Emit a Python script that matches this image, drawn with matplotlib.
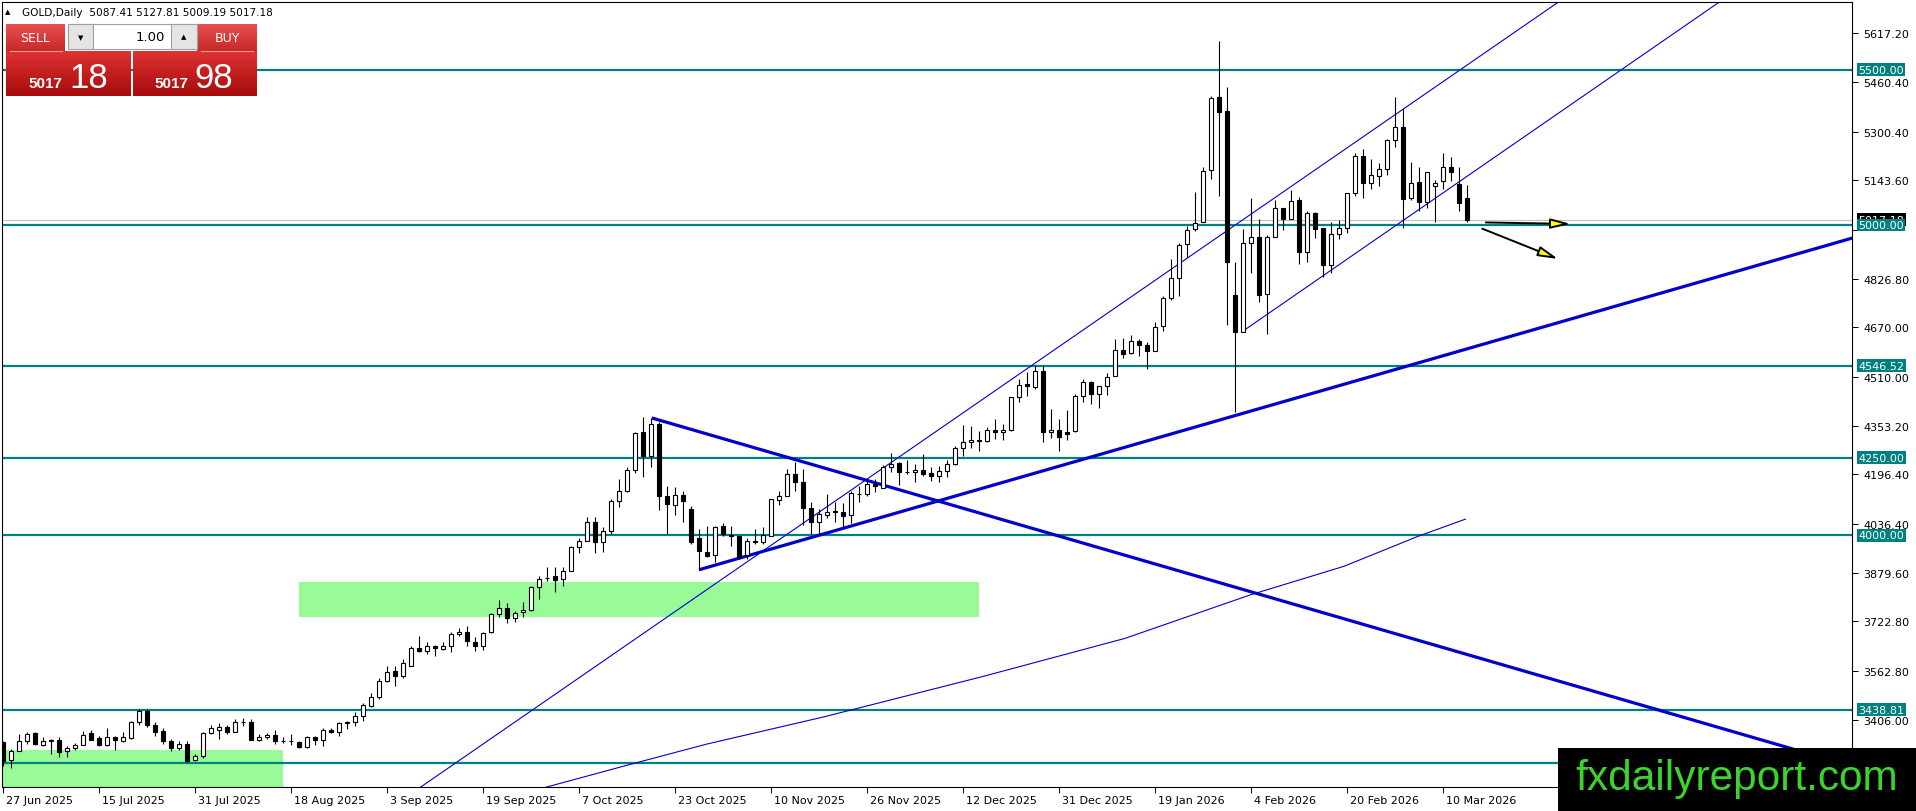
import matplotlib
matplotlib.use('Agg')
import matplotlib.pyplot as plt
import matplotlib.transforms as mtransforms
from matplotlib.patches import Rectangle, FancyArrowPatch
from matplotlib.colors import LinearSegmentedColormap
import numpy as np

W, H = 1916, 812

# daily OHLC, bar 0 = 27 Jun 2025, last bar = 13 Mar 2026
opens = [3333, 3276, 3306, 3338, 3362, 3326, 3340, 3342, 3304, 3314,
         3325, 3362, 3347, 3325, 3350, 3336, 3347, 3398, 3434, 3389,
         3371, 3336, 3315, 3328, 3277, 3290, 3363, 3374, 3384, 3367,
         3398, 3400, 3342, 3349, 3357, 3336, 3338, 3333, 3317, 3350,
         3339, 3374, 3365, 3400, 3397, 3419, 3451, 3478, 3532, 3564,
         3546, 3580, 3636, 3626, 3642, 3634, 3644, 3681, 3690, 3657,
         3644, 3687, 3745, 3765, 3735, 3752, 3759, 3832, 3862, 3868,
         3858, 3886, 3961, 3983, 4042, 3977, 4015, 4109, 4142, 4210,
         4332, 4254, 4359, 4126, 4098, 4130, 4085, 3990, 3945, 3935,
         4031, 4001, 3999, 3935, 3982, 3977, 3999, 4115, 4128, 4197,
         4171, 4087, 4044, 4067, 4077, 4076, 4066, 4133, 4132, 4165,
         4154, 4219, 4233, 4204, 4203, 4211, 4200, 4190, 4208, 4230,
         4280, 4300, 4306, 4303, 4339, 4332, 4339, 4444, 4487, 4477,
         4530, 4332, 4339, 4332, 4335, 4448, 4495, 4455, 4480, 4514,
         4598, 4586, 4627, 4614, 4595, 4673, 4765, 4830, 4937, 4987,
         5008, 5176, 5412, 5367, 4775, 4655, 4941, 4961, 4777, 4961,
         5054, 5018, 5080, 4914, 5038, 4991, 4872, 4970, 4991, 5102,
         5222, 5136, 5158, 5179, 5273, 5316, 5088, 5139, 5075, 5124,
         5142, 5185, 5131, 5087.41]
highs = [3338, 3311, 3360, 3367, 3367, 3349, 3344, 3350, 3322, 3331,
         3369, 3374, 3355, 3380, 3355, 3366, 3403, 3440, 3440, 3397,
         3378, 3344, 3338, 3338, 3297, 3367, 3389, 3394, 3389, 3408,
         3411, 3408, 3360, 3363, 3374, 3350, 3360, 3338, 3352, 3355,
         3378, 3378, 3400, 3403, 3430, 3460, 3492, 3539, 3580, 3580,
         3602, 3642, 3675, 3657, 3647, 3657, 3687, 3700, 3709, 3671,
         3687, 3749, 3793, 3782, 3757, 3784, 3836, 3870, 3897, 3897,
         3897, 3967, 3990, 4058, 4058, 4026, 4117, 4181, 4219, 4332,
         4380, 4378, 4365, 4160, 4155, 4144, 4096, 4020, 4031, 4031,
         4040, 4031, 3999, 3990, 4020, 4026, 4117, 4144, 4214, 4237,
         4214, 4106, 4085, 4133, 4106, 4104, 4144, 4160, 4182, 4182,
         4227, 4265, 4235, 4244, 4230, 4262, 4219, 4222, 4241, 4289,
         4354, 4352, 4337, 4348, 4375, 4359, 4445, 4504, 4527, 4549,
         4549, 4407, 4375, 4404, 4455, 4504, 4498, 4482, 4523, 4632,
         4635, 4645, 4632, 4624, 4688, 4770, 4890, 4942, 4995, 5106,
         5185, 5416, 5593, 5445, 4881, 4986, 5086, 5020, 4967, 5080,
         5056, 5113, 5091, 5045, 5040, 4991, 5008, 5015, 5104, 5231,
         5244, 5212, 5199, 5276, 5412, 5373, 5201, 5188, 5171, 5145,
         5231, 5219, 5187, 5127.81]
lows = [3256, 3249, 3305, 3328, 3323, 3322, 3297, 3287, 3285, 3310,
        3323, 3341, 3321, 3320, 3310, 3333, 3344, 3388, 3381, 3354,
        3328, 3305, 3307, 3269, 3274, 3282, 3360, 3344, 3360, 3365,
        3385, 3339, 3336, 3343, 3328, 3331, 3325, 3315, 3315, 3326,
        3322, 3362, 3352, 3376, 3385, 3403, 3446, 3473, 3526, 3513,
        3539, 3580, 3623, 3618, 3612, 3632, 3625, 3677, 3644, 3628,
        3632, 3684, 3736, 3718, 3722, 3736, 3757, 3795, 3854, 3818,
        3838, 3884, 3943, 3981, 3943, 3945, 4004, 4090, 4139, 4201,
        4187, 4219, 4080, 4004, 4066, 4044, 3972, 3889, 3929, 3915,
        3999, 3967, 3924, 3924, 3972, 3972, 3997, 4098, 4128, 4144,
        4033, 4004, 4004, 4055, 4042, 4026, 4040, 4108, 4128, 4141,
        4151, 4205, 4162, 4198, 4171, 4192, 4176, 4171, 4187, 4227,
        4255, 4280, 4270, 4302, 4310, 4308, 4337, 4431, 4448, 4471,
        4302, 4312, 4273, 4308, 4332, 4428, 4423, 4409, 4452, 4512,
        4570, 4584, 4579, 4536, 4595, 4659, 4759, 4772, 4895, 4981,
        5008, 5149, 5093, 4677, 4396, 4655, 4844, 4752, 4648, 4961,
        4983, 5018, 4873, 4879, 4959, 4832, 4846, 4954, 4975, 5093,
        5088, 5115, 5124, 5160, 5252, 4991, 5080, 5045, 5056, 5008,
        5117, 5142, 5045, 5009.19]
closes = [3274, 3306, 3338, 3360, 3328, 3338, 3338, 3301, 3315, 3325,
          3357, 3342, 3323, 3350, 3339, 3350, 3400, 3434, 3389, 3367,
          3336, 3315, 3328, 3274, 3290, 3363, 3378, 3382, 3365, 3400,
          3399, 3342, 3350, 3357, 3336, 3337, 3336, 3317, 3350, 3339,
          3373, 3365, 3394, 3395, 3419, 3453, 3478, 3532, 3559, 3546,
          3588, 3636, 3626, 3642, 3636, 3642, 3681, 3690, 3661, 3644,
          3684, 3745, 3765, 3735, 3749, 3760, 3832, 3858, 3863, 3857,
          3886, 3961, 3983, 4042, 3977, 4015, 4109, 4142, 4210, 4330,
          4257, 4359, 4126, 4100, 4130, 4112, 3980, 3951, 3932, 4026,
          4004, 3999, 3929, 3981, 3977, 4001, 4117, 4126, 4197, 4171,
          4087, 4044, 4069, 4076, 4076, 4063, 4136, 4134, 4164, 4158,
          4219, 4230, 4205, 4203, 4211, 4198, 4190, 4208, 4230, 4280,
          4300, 4306, 4304, 4339, 4332, 4339, 4444, 4484, 4480, 4530,
          4332, 4339, 4318, 4326, 4448, 4495, 4455, 4480, 4509, 4598,
          4584, 4627, 4614, 4595, 4670, 4765, 4830, 4935, 4985, 5006,
          5174, 5410, 5365, 4882, 4655, 4941, 4961, 4773, 4962, 5054,
          5018, 5077, 4914, 5038, 4986, 4872, 4970, 4991, 5102, 5222,
          5136, 5160, 5179, 5274, 5316, 5083, 5134, 5075, 5169, 5134,
          5185, 5169, 5072, 5017.18]

tick_idx = [0, 12, 24, 36, 48, 60, 72, 84, 96, 108, 120, 132, 144, 156, 168, 180]
tick_labels = ['27 Jun 2025', '15 Jul 2025', '31 Jul 2025', '18 Aug 2025', '3 Sep 2025',
               '19 Sep 2025', '7 Oct 2025', '23 Oct 2025', '10 Nov 2025', '26 Nov 2025',
               '12 Dec 2025', '31 Dec 2025', '19 Jan 2026', '4 Feb 2026', '20 Feb 2026',
               '10 Mar 2026']

# 4983.60 sits under the price tags, so its label is left blank
price_ticks = [5617.20, 5460.40, 5300.40, 5143.60, 4983.60, 4826.80, 4670.00, 4510.00,
               4353.20, 4196.40, 4036.40, 3879.60, 3722.80, 3562.80, 3406.00]
hidden_ticks = [4983.60]

levels = [5500.00, 5000.00, 4546.52, 4250.00, 4000.00, 3438.81, 3266.50]
level_tagged = [True, True, True, True, True, True, False]

bid = 5017.18
sell_big, sell_small = '18', '5017'
buy_big, buy_small = '98', '5017'
header = 'GOLD,Daily  5087.41 5127.81 5009.19 5017.18'

# moving average
ma_idx = [66.8, 78.1, 87.9, 102.75, 122.3, 140.25, 155.9, 167.6, 177.0, 182.8]
ma_val = [3181, 3260, 3327, 3416, 3544, 3668, 3808, 3900, 3998, 4052]

# trend lines (bar index, price)
thin_lines = [([30, 200], [2794, 5817]),
              ([155, 220], [4658, 5815])]
thick_lines = [([81.1, 240], [4378, 3190]),
               ([87.0, 235], [3889, 4986])]

# green zones: (bar from, bar to, price low, price high)
zones = [(37, 122, 3738, 3850),
         (-5, 35, 3100, 3308)]

arrows = [((185.0, 5008), (196.3, 5003)),
          ((184.6, 4991), (194.7, 4887))]

TEAL = '#008080'
BLUE = '#0000CD'

fig = plt.figure(figsize=(W / 100, H / 100), dpi=100)
fig.patch.set_facecolor('white')
ax = fig.add_axes([2 / W, (H - 788) / H, 1850 / W, 785 / H])
ax.set_xlim(-0.125, 231.125)
ax.set_ylim(3189.2, 5718.0)
for s in ax.spines.values():
    s.set_linewidth(0.8)
    s.set_color('black')

for x0, x1, lo, hi in zones:
    ax.add_patch(Rectangle((x0, lo), x1 - x0, hi - lo, facecolor='#98FB98',
                           edgecolor='none', zorder=1))

for lv in levels:
    ax.axhline(lv, color=TEAL, lw=1.6, zorder=2)
ax.axhline(bid, color='#C0C0C0', lw=0.8, zorder=2)

ax.plot(ma_idx, ma_val, color=BLUE, lw=0.8, zorder=2)
for xs, ys in thin_lines:
    ax.plot(xs, ys, color=BLUE, lw=0.8, zorder=2)
for xs, ys in thick_lines:
    ax.plot(xs, ys, color=BLUE, lw=2.3, zorder=2, solid_capstyle='butt')

idx = np.arange(len(closes))
o = np.array(opens, float)
c = np.array(closes, float)
ax.vlines(idx, lows, highs, color='black', lw=0.8, zorder=4)
up = c >= o
ax.bar(idx[up], c[up] - o[up], bottom=o[up], width=0.56, color='white',
       edgecolor='black', linewidth=0.8, zorder=5)
ax.bar(idx[~up], o[~up] - c[~up], bottom=c[~up], width=0.56, color='black',
       edgecolor='black', linewidth=0.8, zorder=5)

for (a, b) in arrows:
    ax.add_patch(FancyArrowPatch(a, b, arrowstyle='-|>,head_length=12,head_width=3',
                                 mutation_scale=1, lw=1.4, edgecolor='black',
                                 facecolor='#FFFF00', zorder=6))

# axes ticks
ax.yaxis.tick_right()
ax.set_yticks(price_ticks)
ax.set_yticklabels(['' if v in hidden_ticks else '%.2f' % v for v in price_ticks])
ax.tick_params(axis='y', direction='out', length=4, width=0.7, pad=4, labelsize=8)
ax.set_xticks(tick_idx)
ax.set_xticklabels(tick_labels)
ax.tick_params(axis='x', direction='out', length=4, width=0.7, pad=2, labelsize=8)
shift = mtransforms.ScaledTranslation(2 / 72, 0, fig.dpi_scale_trans)
for lab in ax.get_xticklabels():
    lab.set_ha('left')
    lab.set_transform(lab.get_transform() + shift)

tr = mtransforms.blended_transform_factory(ax.transAxes, ax.transData)
ax.text(1.0035, bid, '%.2f' % bid, transform=tr, ha='left', va='center', fontsize=8,
        color='white', clip_on=False, zorder=20,
        bbox=dict(boxstyle='square,pad=0.12', fc='black', ec='none'))
for lv, tag in zip(levels, level_tagged):
    if tag:
        ax.text(1.0035, lv, '%.2f' % lv, transform=tr, ha='left', va='center', fontsize=8,
                color='white', clip_on=False, zorder=21,
                bbox=dict(boxstyle='square,pad=0.12', fc=TEAL, ec='none'))

# overlay in pixel coordinates for the trade panel and watermark
ov = fig.add_axes([0, 0, 1, 1], zorder=10)
ov.patch.set_alpha(0)
ov.axis('off')


def grad_box(x0, y0, x1, y1, ctop, cbot):
    cm = LinearSegmentedColormap.from_list('g', [ctop, cbot])
    ov.imshow(np.linspace(0, 1, 32).reshape(-1, 1), cmap=cm, aspect='auto',
              extent=(x0, x1, y1, y0), origin='upper', interpolation='bilinear')


grad_box(6, 25, 65, 52, '#E85050', '#C92828')
grad_box(197, 25, 257, 52, '#E85050', '#C92828')
grad_box(6, 52, 131, 97, '#DD3232', '#A80C0C')
grad_box(133, 52, 257, 97, '#DD3232', '#A80C0C')
ov.plot([10, 62], [51.5, 51.5], color='#F29A9A', lw=0.8)
ov.plot([201, 253], [51.5, 51.5], color='#F29A9A', lw=0.8)

ov.add_patch(Rectangle((68, 25), 129, 25, fc='white', ec='#A0A0A0', lw=0.8))
ov.add_patch(Rectangle((68, 25), 25, 25, fc='#E4E4E4', ec='#A0A0A0', lw=0.8))
ov.add_patch(Rectangle((171, 25), 26, 25, fc='#E4E4E4', ec='#A0A0A0', lw=0.8))
ov.text(80.5, 38, '\u25BC', fontsize=5, ha='center', va='center', color='black')
ov.text(184, 37, '\u25B2', fontsize=5, ha='center', va='center', color='black')
ov.text(165, 37.5, '1.00', fontsize=9.5, ha='right', va='center', color='black')
ov.text(35.5, 38.5, 'SELL', fontsize=9, ha='center', va='center', color='white')
ov.text(227, 38.5, 'BUY', fontsize=9, ha='center', va='center', color='white')
ov.text(28, 88, sell_small, fontsize=11, fontweight='bold', family='Liberation Sans',
        ha='left', va='baseline', color='white')
ov.text(69, 87.5, sell_big, fontsize=25, family='Liberation Sans',
        ha='left', va='baseline', color='white')
ov.text(154, 88, buy_small, fontsize=11, fontweight='bold', family='Liberation Sans',
        ha='left', va='baseline', color='white')
ov.text(194, 87.5, buy_big, fontsize=25, family='Liberation Sans',
        ha='left', va='baseline', color='white')

ov.text(7.5, 12.5, '\u25B2', fontsize=5, ha='center', va='center', color='black')
ov.text(22, 12.5, header, fontsize=7.6, ha='left', va='center', color='black')

ov.add_patch(Rectangle((1558, 749), W - 1558, H - 749, fc='black', ec='none'))
ov.text(1575, 790, 'fxdailyreport.com', fontsize=30.5, family='Liberation Sans',
        ha='left', va='baseline', color='#3AD42C')

ov.set_xlim(0, W)
ov.set_ylim(H, 0)

fig.savefig('out.png', dpi=100)
